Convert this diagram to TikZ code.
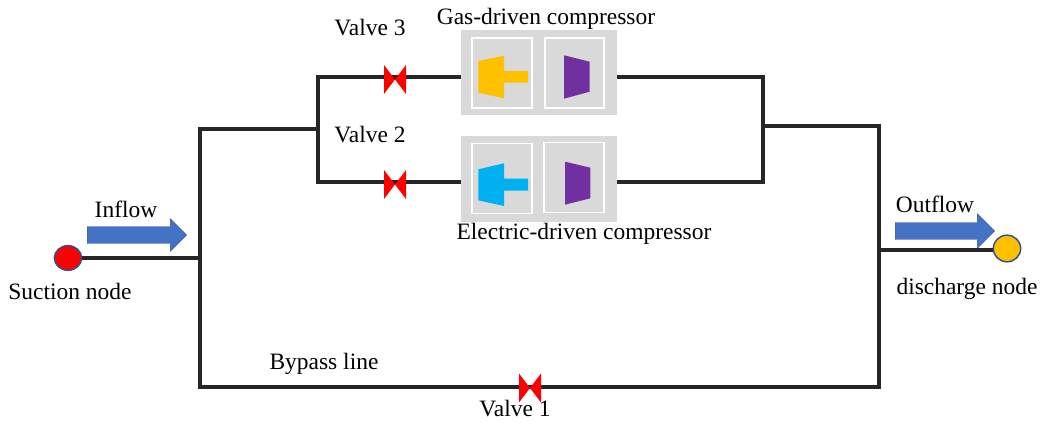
\documentclass[tikz,border=0pt]{standalone}
\usepackage{fontspec}
\setmainfont{Liberation Serif}
\usetikzlibrary{shapes.arrows,shapes.geometric}
\definecolor{pipecol}{HTML}{262626}
\definecolor{boxcol}{HTML}{D9D9D9}
\definecolor{goldcol}{HTML}{FFC000}
\definecolor{cyancol}{HTML}{00B0F0}
\definecolor{purplecol}{HTML}{7030A0}
\definecolor{arrowcol}{HTML}{4472C4}
\definecolor{edgecol}{HTML}{2F528F}
\tikzset{
  pipe/.style={draw=pipecol,line width=2.4pt},
  lab/.style={anchor=base,inner sep=0pt,font=\fontsize{17.6}{20}\selectfont},
  compbox/.style={fill=boxcol,minimum width=117pt,minimum height=64pt,inner sep=0pt},
  stagebox/.style={draw=white,line width=1.4pt,minimum width=44.5pt,minimum height=52.5pt,inner sep=0pt},
  endnode/.style={ellipse,draw=edgecol,line width=1.1pt,inner sep=0pt},
  flow/.style={single arrow,anchor=tail,fill=arrowcol,draw=edgecol,line width=.3pt,inner xsep=0pt,inner ysep=6.2pt,
    minimum height=74.5pt,minimum width=24pt,single arrow head extend=5.8pt,single arrow tip angle=90},
}
\begin{document}
\begin{tikzpicture}[x=.75pt,y=-.75pt]
\useasboundingbox(0,0)rectangle(1043,423);
\node[compbox](gasbox)at(539,72.5){};
\node[compbox](elecbox)at(539,179){};
\node[stagebox](gasturb)at(502,73){};
\node[stagebox](gascomp)at(574.5,73){};
\node[stagebox](electurb)at(502,178.5){};
\node[stagebox](eleccomp)at(574,177.5){};
\coordinate(valvea)at(530,388);
\coordinate(valveb)at(395,184.5);
\coordinate(valvec)at(395,79.5);
\coordinate(splitl)at(200,129);
\coordinate(splitt)at(318,129);
\coordinate(gasin)at(461,77);
\coordinate(gasout)at(617,77);
\coordinate(elecin)at(461,182);
\coordinate(elecout)at(617,182);
\coordinate(joinl)at(763,126);
\coordinate(joinr)at(879,126);
\coordinate(botl)at(200,387);
\coordinate(botr)at(879,387);
\coordinate(dischargeend)at(879,250);
\node[endnode,fill=red,minimum width=20.5pt,minimum height=18.5pt](suction)at(68,258){};
\node[endnode,fill=goldcol,minimum width=20.5pt,minimum height=20pt](discharge)at(1007,248.5){};
\path[pipe](suction)--(suction-|splitl);
\path[pipe](splitt)--(splitl)--(botl)--(botr)--(joinr)--(joinl);
\path[pipe](gasin)-|(splitt)|-(elecin);
\path[pipe](gasout)-|(joinl)|-(elecout);
\path[pipe](discharge.west|-dischargeend)--(dischargeend);
\foreach \v in {valvea,valveb,valvec}
\path[fill=red,shift={(\v)}](-11,-14.5)--(11,14.5)--(11,-14.5)--(-11,14.5)--cycle;
\path[fill=goldcol](478.3,61)--(504,55.7)--(504,71)--(528,71)--(528,82.7)%
--(504,82.7)--(504,98.3)--(478.3,92.7)--cycle;
\path[fill=cyancol](478.3,169.3)--(504,163.3)--(504,178.7)--(528,178.7)--(528,190.7)%
--(504,190.7)--(504,206)--(478.3,200.3)--cycle;
\path[fill=purplecol](564,55.3)--(589.7,61.7)--(589.7,91.7)--(564,98.7)--cycle;
\path[fill=purplecol](565,161.7)--(590.3,167.7)--(590.3,198.3)--(565,204.7)--cycle;
\node[flow](inflow)at(87,235){};
\node[flow,minimum width=25.5pt,single arrow head extend=6.5pt](outflow)at(895,231){};
\node[lab](gaslab)at(546,25){Gas-driven compressor};
\node[lab](eleclab)at(584,240){Electric-driven compressor};
\node[lab](valvectxt)at(370,36){Valve 3};
\node[lab](valvebtxt)at(370,143){Valve 2};
\node[lab](valveatxt)at(515,417){Valve 1};
\node[lab](bypasstxt)at(324,370){Bypass line};
\node[lab](inflowtxt)at(126,218){Inflow};
\node[lab](outflowtxt)at(935,213){Outflow};
\node[lab](suctiontxt)at(70,300){Suction node};
\node[lab](dischargetxt)at(967,295){discharge node};
\end{tikzpicture}
\end{document}
